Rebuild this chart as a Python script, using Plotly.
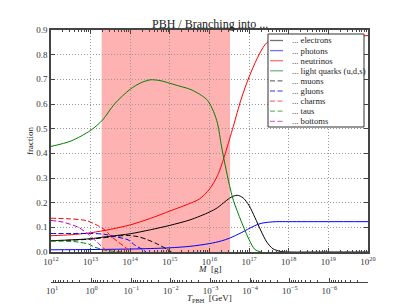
import math
import plotly.graph_objects as go

# ---------------- data ----------------
M_electrons = [1e12, 3.2e12, 1e13, 2e13, 3.2e13, 1e14, 3.2e14, 1e15, 3.2e15, 1e16, 1.6e16,
               2.5e16, 3.5e16, 5e16, 7e16, 1e17, 1.4e17, 2e17, 2.8e17, 4e17, 6.3e17, 1e18, 1e19, 1e20]
electrons = [0.046, 0.049, 0.054, 0.060, 0.064, 0.074, 0.090, 0.108, 0.130, 0.162, 0.180,
             0.205, 0.222, 0.230, 0.220, 0.188, 0.140, 0.085, 0.040, 0.013, 0.002, 0.0, 0.0, 0.0]

M_photons = [1e12, 1e13, 1e14, 3.2e14, 1e15, 3.2e15, 1e16, 2e16, 3.2e16, 6.3e16, 1e17,
             1.4e17, 2e17, 3.2e17, 5e17, 1e18, 1e19, 1e20]
photons = [0.009, 0.010, 0.012, 0.014, 0.017, 0.023, 0.034, 0.045, 0.056, 0.078, 0.095,
           0.107, 0.116, 0.121, 0.123, 0.123, 0.123, 0.123]

M_neutrinos = [1e12, 3.2e12, 1e13, 3.2e13, 1e14, 3.2e14, 1e15, 3.2e15, 5.6e15, 1e16, 1.6e16,
               2.5e16, 4e16, 6.3e16, 1e17, 1.6e17, 2.5e17, 4e17, 6.3e17, 1e18, 1e19, 1e20]
neutrinos = [0.066, 0.070, 0.078, 0.092, 0.110, 0.136, 0.166, 0.197, 0.215, 0.255, 0.310,
             0.400, 0.510, 0.620, 0.710, 0.785, 0.840, 0.868, 0.876, 0.877, 0.877, 0.877]

M_light = [1e12, 3.2e12, 1e13, 2e13, 4e13, 1e14, 1.8e14, 3.2e14, 5.6e14, 1e15, 1.8e15, 3.2e15,
           5.6e15, 8.9e15, 1.26e16, 1.6e16, 2e16, 2.5e16, 3.2e16, 4e16, 6.3e16, 1e17, 1.4e17, 2e17]
light_quarks = [0.428, 0.450, 0.493, 0.535, 0.600, 0.660, 0.685, 0.698, 0.695, 0.684, 0.672, 0.660,
                0.640, 0.615, 0.570, 0.520, 0.430, 0.350, 0.270, 0.210, 0.125, 0.050, 0.010, 0.0]

M_muons = [1e12, 3.2e12, 1e13, 3.2e13, 8e13, 1.6e14, 2.8e14, 5e14, 8.3e14, 1.1e15]
muons = [0.045, 0.048, 0.052, 0.061, 0.067, 0.062, 0.049, 0.031, 0.012, 0.0]

M_gluons = [1e12, 3.2e12, 1e13, 2.2e13, 4.2e13, 8.9e13, 1.3e14, 1.95e14, 2.5e14]
gluons = [0.075, 0.075, 0.075, 0.072, 0.062, 0.049, 0.028, 0.012, 0.0]

M_charms = [1e12, 3.2e12, 7.9e12, 1.6e13, 2.3e13, 3.4e13, 5e13, 7.4e13, 1e14]
charms = [0.137, 0.134, 0.127, 0.105, 0.089, 0.062, 0.040, 0.020, 0.0]

M_taus = [1e12, 3.2e12, 5e12, 8.9e12, 1.26e13, 2e13, 3.2e13, 6.3e13]
taus = [0.045, 0.043, 0.040, 0.032, 0.020, 0.010, 0.004, 0.0]

M_bottoms = [1e12, 2e12, 4.9e12, 8.7e12, 1.55e13, 2.1e13, 2.8e13]
bottoms = [0.128, 0.121, 0.100, 0.072, 0.036, 0.016, 0.0]

shade_M = [1.9e13, 3.3e16]

x_ticks = [1e12, 1e13, 1e14, 1e15, 1e16, 1e17, 1e18, 1e19, 1e20]
x_tick_text = ["10<sup>12</sup>", "10<sup>13</sup>", "10<sup>14</sup>", "10<sup>15</sup>",
               "10<sup>16</sup>", "10<sup>17</sup>", "10<sup>18</sup>", "10<sup>19</sup>",
               "10<sup>20</sup>"]
T_ticks = [1e1, 1e0, 1e-1, 1e-2, 1e-3, 1e-4, 1e-5, 1e-6]
T_tick_text = ["10<sup>1</sup>", "10<sup>0</sup>", "10<sup>−1</sup>", "10<sup>−2</sup>",
               "10<sup>−3</sup>", "10<sup>−4</sup>", "10<sup>−5</sup>", "10<sup>−6</sup>"]
T_conv = 1.06e13  # T_PBH [GeV] = T_conv / M[g]

labels = ["... electrons", "... photons", "... neutrinos", "... light quarks (u,d,s)",
          "... muons", "... gluons", "... charms", "... taus", "... bottoms"]

# ---------------- styling ----------------
FONT = "Liberation Serif"
series = [
    (M_electrons, electrons, "black", None),
    (M_photons, photons, "#0000ff", None),
    (M_neutrinos, neutrinos, "#ff0000", None),
    (M_light, light_quarks, "#008000", None),
    (M_muons, muons, "black", "5px,2.5px"),
    (M_gluons, gluons, "#0000ff", "5px,2.5px"),
    (M_charms, charms, "#ff0000", "5px,2.5px"),
    (M_taus, taus, "#008000", "5px,2.5px"),
    (M_bottoms, bottoms, "#bf00bf", "5px,2.5px"),
]

fig = go.Figure()
for (mx, vals, col, dash), name in zip(series, labels):
    fig.add_trace(go.Scatter(
        x=mx, y=vals, mode="lines", name=name, showlegend=False,
        line=dict(color=col, width=1, dash=dash or "solid", shape="spline", smoothing=0.8),
        hoverinfo="skip"))

# helper (invisible) trace for the temperature axis
fig.add_trace(go.Scatter(x=T_ticks, y=[0] * len(T_ticks), xaxis="x2", yaxis="y",
                         mode="markers", marker=dict(opacity=0), showlegend=False,
                         hoverinfo="skip"))

minor_M = [k * 10.0 ** n for n in range(12, 20) for k in range(2, 10)]
minor_T = [k * 10.0 ** n for n in range(-7, 1) for k in range(2, 10) if k * 10.0 ** n < 10.6]

axis_common = dict(showline=True, linecolor="#444", ticks="inside", tickcolor="#444",
                   tickfont=dict(family=FONT, size=9, color="#333"))

fig.update_layout(
    width=409, height=307,
    margin=dict(l=51, r=41, t=30, b=25),
    paper_bgcolor="white", plot_bgcolor="white",
    showlegend=False,
    font=dict(family=FONT, color="#222"),
    xaxis=dict(type="log", range=[12, 20], tickmode="array", tickvals=x_ticks,
               ticktext=x_tick_text, ticklen=4, mirror="ticks", linewidth=1.5,
               showgrid=True, gridcolor="#999", griddash="1px,2px", gridwidth=1,
               minor=dict(tickmode="array", tickvals=minor_M, ticks="inside", ticklen=2,
                          tickcolor="#444", showgrid=False),
               anchor="y", zeroline=False, **axis_common),
    yaxis=dict(range=[0, 0.9], domain=[30 / 252, 1], tickmode="linear", tick0=0, dtick=0.1,
               tickformat=".1f", ticklen=4, mirror="ticks", linewidth=1.5,
               showgrid=True, gridcolor="#999", griddash="1px,2px", gridwidth=1,
               zeroline=False, **axis_common),
    xaxis2=dict(type="log", overlaying="x", anchor="free", position=0, side="bottom",
                range=[math.log10(T_conv / 1e12), math.log10(T_conv / 1e20)],
                tickmode="array", tickvals=T_ticks, ticktext=T_tick_text, ticklen=4,
                showgrid=False, zeroline=False, linewidth=1,
                minor=dict(tickmode="array", tickvals=minor_T, ticks="inside", ticklen=2,
                           tickcolor="#444", showgrid=False),
                **axis_common),
)

shapes = [dict(type="rect", xref="x", yref="y", x0=shade_M[0], x1=shade_M[1], y0=0, y1=0.9,
               fillcolor="rgba(255,0,0,0.3)", line=dict(width=0), layer="below")]

# manual compact legend
lx0, lx1 = (268 - 51) / 317, (364 - 51) / 317
ly1, ly0 = (282 - 34) / 252, (282 - 127) / 252
shapes.append(dict(type="rect", xref="paper", yref="paper", x0=lx0, x1=lx1, y0=ly0, y1=ly1,
                   fillcolor="white", line=dict(color="#333", width=1), layer="above"))
annotations = []
for i, ((mx, vals, col, dash), name) in enumerate(zip(series, labels)):
    ypx = 40.5 + 10.1 * i
    yp = (282 - ypx) / 252
    shapes.append(dict(type="line", xref="paper", yref="paper",
                       x0=(270 - 51) / 317, x1=(283 - 51) / 317, y0=yp, y1=yp,
                       line=dict(color=col, width=1.3, dash=dash or "solid"),
                       opacity=0.55, layer="above"))
    annotations.append(dict(xref="paper", yref="paper", x=(290 - 51) / 317, y=yp,
                            xanchor="left", yanchor="middle", showarrow=False, text=name,
                            font=dict(family=FONT, size=8.6, color="#222")))

annotations += [
    dict(xref="paper", yref="paper", x=0.5, y=(282 - 24) / 252, text="PBH / Branching into ...",
         showarrow=False, xanchor="center", yanchor="middle",
         font=dict(family=FONT, size=12, color="#222")),
    dict(xref="paper", yref="paper", x=(30 - 51) / 317, y=(282 - 141) / 252, text="fraction",
         showarrow=False, textangle=-90, xanchor="center", yanchor="middle",
         font=dict(family=FONT, size=9, color="#222")),
    dict(xref="paper", yref="paper", x=0.5, y=(282 - 269) / 252, text="<i>M</i>  [g]",
         showarrow=False, xanchor="center", yanchor="middle",
         font=dict(family=FONT, size=9, color="#222")),
    dict(xref="paper", yref="paper", x=0.5, y=(282 - 298) / 252,
         text="<i>T</i><sub>PBH</sub>  [GeV]",
         showarrow=False, xanchor="center", yanchor="middle",
         font=dict(family=FONT, size=9, color="#222")),
]

fig.update_layout(shapes=shapes, annotations=annotations)
fig.write_html("out.html", config={"displayModeBar": False},
               post_script="document.body.style.margin='0px';document.body.style.overflow='hidden';")
